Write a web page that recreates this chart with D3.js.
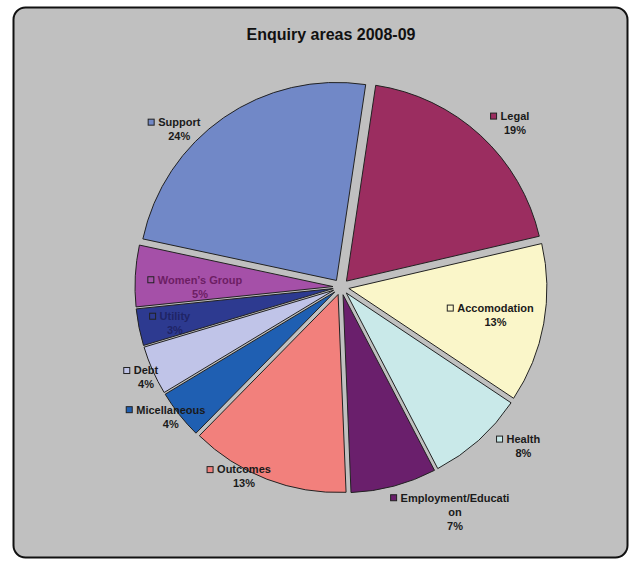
<!DOCTYPE html>
<html>
<head>
<meta charset="utf-8">
<script src="https://cdn.jsdelivr.net/npm/d3@7"></script>
<style>
  body { margin: 0; background: #fff; }
  svg { display: block; font-family: "Liberation Sans", Arial, sans-serif; }
</style>
</head>
<body>
<svg id="chart"></svg>
<script>
// data, in pie order (clockwise)
const categories = ["Legal", "Accomodation", "Health", "Employment/Education", "Outcomes",
                    "Micellaneous", "Debt", "Utility", "Women\u2019s Group", "Support"];
const shares = [19, 13, 8, 7, 13, 4, 4, 3, 5, 24];
const title = "Enquiry areas 2008-09";

const colors = ["#9b2d60", "#faf6c9", "#c9e9e9", "#6a1f6c", "#f2807c",
                "#1f5fb2", "#c0c4e8", "#2d3a90", "#a550a8", "#7188c7"];
const textColors = ["#1a1a1a", "#1a1a1a", "#1a1a1a", "#1a1a1a", "#1a1a1a",
                    "#1a1a1a", "#1a1a1a", "#1f2466", "#6d1e64", "#1a1a1a"];
// label spot: distance from centre and angle shift from slice middle (deg)
const labelDist = [239, 157, 242, 252, 213, 214, 215, 170, 141, 226];
const labelShift = [4, 0, -7, -12, 6, 1, -1, -1, -3, -11];

const W = 629, H = 566;
const cx = 341, cy = 287, R = 198, explode = 8;
const start = 8.5 * Math.PI / 180;

const svg = d3.select("#chart").attr("width", W).attr("height", H);

svg.append("rect")
    .attr("x", 13.5).attr("y", 7.5)
    .attr("width", 614).attr("height", 550)
    .attr("rx", 12)
    .attr("fill", "#c0c0c0")
    .attr("stroke", "#111")
    .attr("stroke-width", 2);

svg.append("text")
    .attr("x", 331).attr("y", 40)
    .attr("text-anchor", "middle")
    .attr("font-size", "16px")
    .attr("font-weight", "bold")
    .attr("fill", "#111")
    .text(title);

const pie = d3.pie().sort(null).startAngle(start).endAngle(start + 2 * Math.PI);
const arcs = pie(shares);
const arc = d3.arc().innerRadius(0).outerRadius(R);
const mid = d => (d.startAngle + d.endAngle) / 2;

const g = svg.append("g").attr("transform", `translate(${cx},${cy})`);

g.selectAll("path.slice")
    .data(arcs)
    .join("path")
    .attr("class", "slice")
    .attr("transform", d => `translate(${explode * Math.sin(mid(d))},${-explode * Math.cos(mid(d))})`)
    .attr("d", arc)
    .attr("fill", (d, i) => colors[i])
    .attr("stroke", "#222")
    .attr("stroke-width", 1);

// break long names like Excel does
function wrap(s, n) {
    const out = [];
    for (let k = 0; k < s.length; k += n) out.push(s.slice(k, k + n));
    return out;
}

const lineH = 14;
const labels = g.selectAll("g.lab")
    .data(arcs)
    .join("g")
    .attr("class", "lab")
    .attr("transform", (d, i) => {
        const a = mid(d) + labelShift[i] * Math.PI / 180;
        return `translate(${labelDist[i] * Math.sin(a)},${-labelDist[i] * Math.cos(a)})`;
    });

labels.each(function (d, i) {
    const lab = d3.select(this);
    const lines = wrap(categories[i], 18).concat([d.data + "%"]);
    const y0 = -(lines.length - 1) * lineH / 2;
    lines.forEach((t, k) => {
        const txt = lab.append("text")
            .attr("x", 0).attr("y", y0 + k * lineH)
            .attr("dy", "0.35em")
            .attr("text-anchor", "middle")
            .attr("font-size", "11px")
            .attr("font-weight", "bold")
            .attr("fill", textColors[i])
            .text(t);
        if (k === 0) {
            const w = txt.node().getComputedTextLength();
            lab.append("rect")
                .attr("x", -w / 2 - 10).attr("y", y0 - 3)
                .attr("width", 6).attr("height", 6)
                .attr("fill", colors[i])
                .attr("stroke", "#222")
                .attr("stroke-width", 1);
        }
    });
});
</script>
</body>
</html>
